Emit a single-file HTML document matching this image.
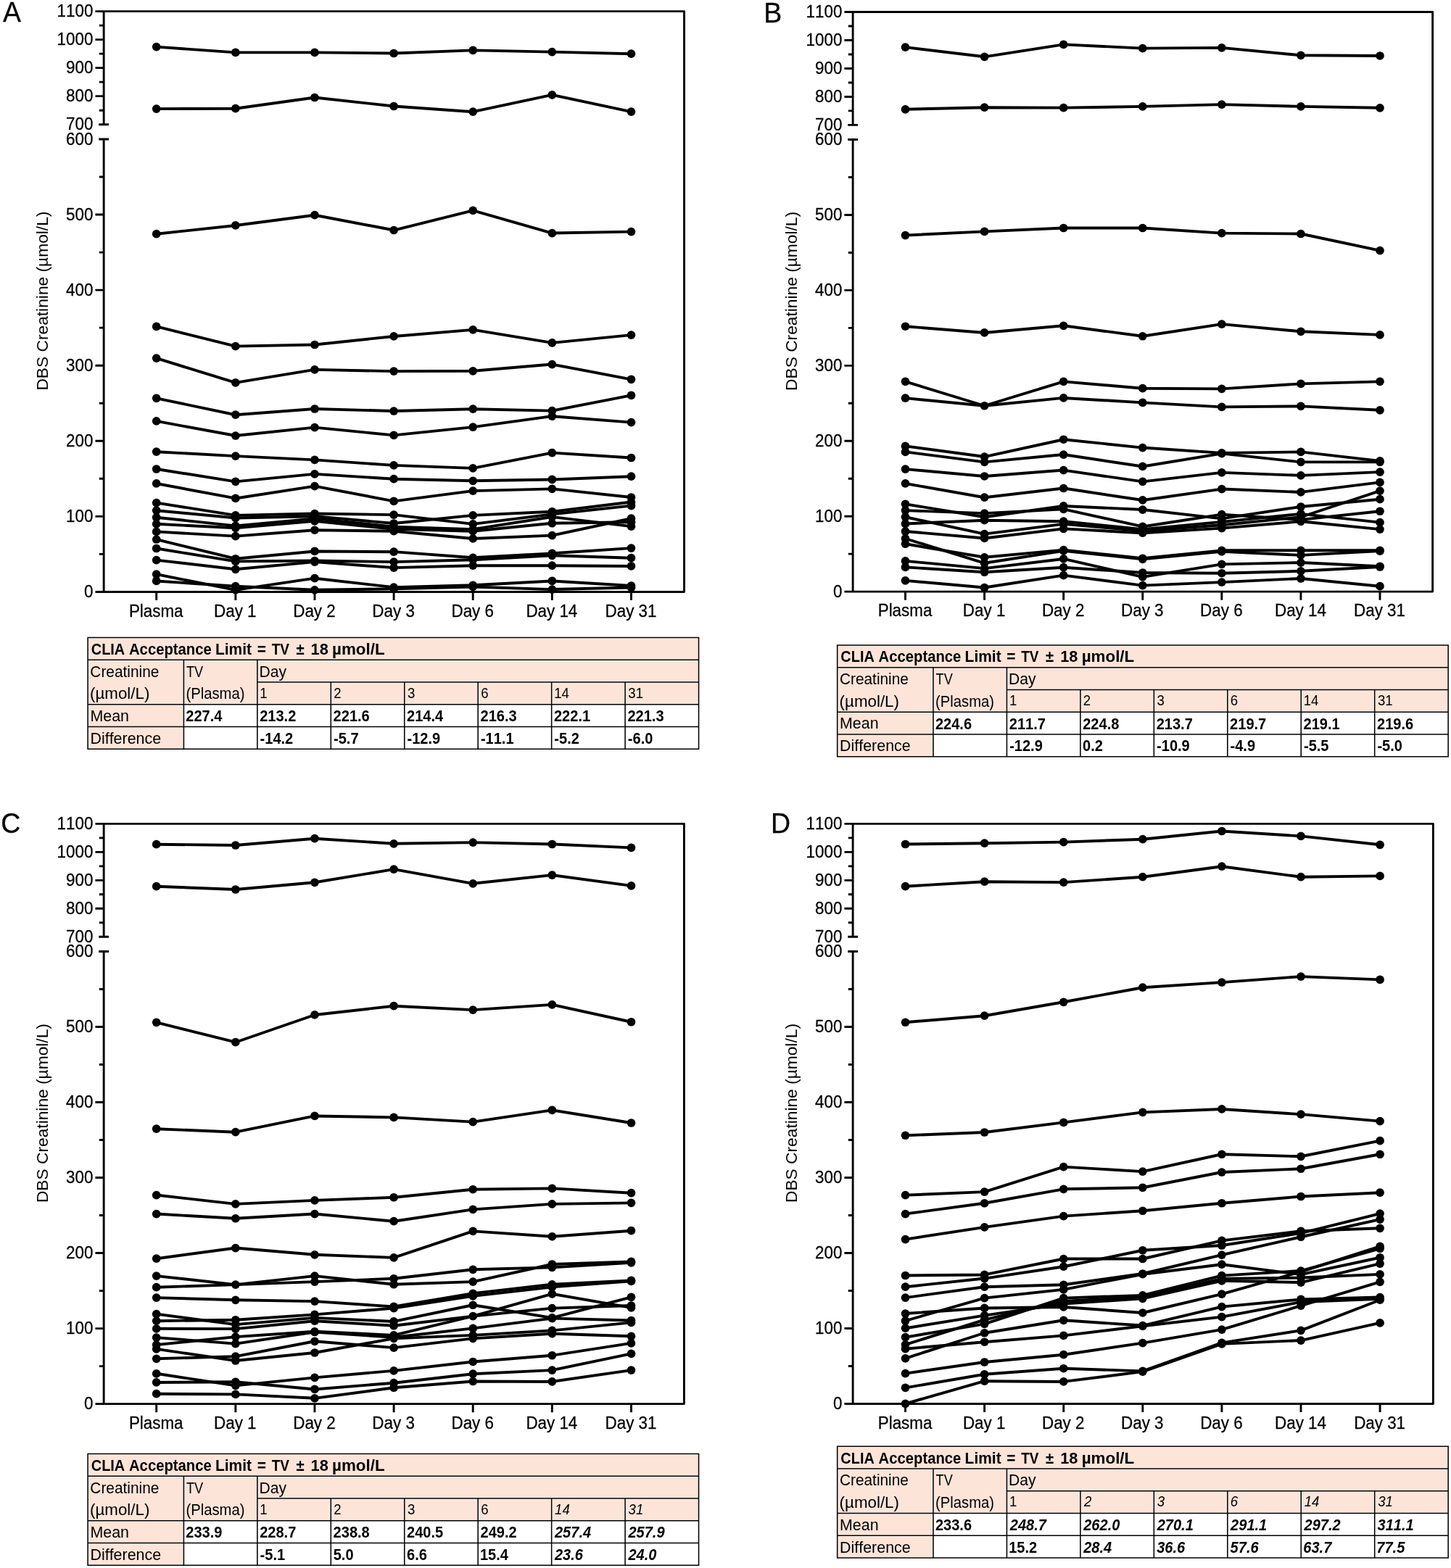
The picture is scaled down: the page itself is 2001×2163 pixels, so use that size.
<!DOCTYPE html>
<html lang="en"><head><meta charset="utf-8"><title>DBS Creatinine stability</title>
<style>html,body{margin:0;padding:0;background:#fff}body{width:2001px;height:2163px;overflow:hidden}svg{display:block}text{font-kerning:none;font-family:"Liberation Sans",sans-serif;fill:#000}.c{stroke:#000;stroke-width:.25px;paint-order:stroke}.b{font-weight:700}.i{font-style:italic}.bi{font-weight:700;font-style:italic}</style></head><body>
<svg width="2001" height="2163" viewBox="0 0 2001 2163">
<rect width="2001" height="2163" fill="#fff"/>
<g id="panelA">
<g fill="none" stroke="#000" stroke-width="2.9" stroke-linecap="butt" stroke-linejoin="round">
<path d="M131.44 15.58 H943.54 V816.43 H131.44"/>
<path d="M143.14 15.58 V171.69"/>
<path d="M143.14 191.98 V816.43"/>
<path d="M136.24 171.69H150.04M136.24 191.98H150.04M131.44 132.66H143.14M131.44 93.63H143.14M131.44 54.61H143.14M131.44 712.35H143.14M131.44 608.28H143.14M131.44 504.2H143.14M131.44 400.13H143.14M131.44 296.05H143.14M136.84 152.18H143.14M136.84 113.15H143.14M136.84 74.12H143.14M136.84 35.09H143.14M136.84 764.39H143.14M136.84 660.32H143.14M136.84 556.24H143.14M136.84 452.17H143.14M136.84 348.09H143.14M136.84 244.02H143.14M215.7 816.43V828.03M324.83 816.43V828.03M433.96 816.43V828.03M543.09 816.43V828.03M652.22 816.43V828.03M761.35 816.43V828.03M870.48 816.43V828.03"/>
</g>
<g font-size="22.4" text-anchor="end" class="c">
<text transform="translate(128.34 23.33) scale(1 1.03)">1100</text>
<text transform="translate(128.34 62.36) scale(1 1.03)">1000</text>
<text transform="translate(128.34 101.38) scale(1 1.03)">900</text>
<text transform="translate(128.34 140.41) scale(1 1.03)">800</text>
<text transform="translate(128.34 179.44) scale(1 1.03)">700</text>
<text transform="translate(128.34 199.73) scale(1 1.03)">600</text>
<text transform="translate(128.34 303.8) scale(1 1.03)">500</text>
<text transform="translate(128.34 407.88) scale(1 1.03)">400</text>
<text transform="translate(128.34 511.95) scale(1 1.03)">300</text>
<text transform="translate(128.34 616.03) scale(1 1.03)">200</text>
<text transform="translate(128.34 720.1) scale(1 1.03)">100</text>
<text transform="translate(128.34 824.18) scale(1 1.03)">0</text>
</g>
<g font-size="22.4" text-anchor="middle" class="c">
<text transform="translate(215.2 850.53) scale(1 1.03)">Plasma</text>
<text transform="translate(324.33 850.53) scale(1 1.03)">Day 1</text>
<text transform="translate(433.46 850.53) scale(1 1.03)">Day 2</text>
<text transform="translate(542.59 850.53) scale(1 1.03)">Day 3</text>
<text transform="translate(651.72 850.53) scale(1 1.03)">Day 6</text>
<text transform="translate(760.85 850.53) scale(1 1.03)">Day 14</text>
<text transform="translate(869.98 850.53) scale(1 1.03)">Day 31</text>
<text transform="translate(66.14 415.11) rotate(-90)" font-size="22.75" style="stroke:none">DBS Creatinine (µmol/L)</text>
</g>
<text transform="translate(4 30.1) scale(1 1.03)" font-size="37.5" class="c">A</text>
<g fill="none" stroke="#000" stroke-width="3.9" stroke-linejoin="round" stroke-linecap="round">
<polyline points="215.7,64.61 324.83,72.41 433.96,72.41 543.09,73.5 652.22,69.4 761.35,71.59 870.48,74.2"/>
<polyline points="215.7,150.09 324.83,149.7 433.96,134.49 543.09,146.51 652.22,154.19 761.35,130.91 870.48,154.19"/>
<polyline points="215.7,322.72 324.83,310.97 433.96,296.72 543.09,317.52 652.22,290.38 761.35,321.58 870.48,319.6"/>
<polyline points="215.7,450.43 324.83,477.58 433.96,475.5 543.09,463.95 652.22,454.9 761.35,472.9 870.48,462.08"/>
<polyline points="215.7,494.11 324.83,527.91 433.96,509.92 543.09,512.1 652.22,511.79 761.35,502.54 870.48,523.34"/>
<polyline points="215.7,549.34 324.83,572.22 433.96,564 543.09,567.02 652.22,564.21 761.35,566.6 870.48,545.38"/>
<polyline points="215.7,580.95 324.83,601.02 433.96,589.58 543.09,600.4 652.22,589.17 761.35,574.19 870.48,582.62"/>
<polyline points="215.7,623.18 324.83,629.1 433.96,634.41 543.09,641.9 652.22,645.85 761.35,624.63 870.48,631.5"/>
<polyline points="215.7,646.99 324.83,664.36 433.96,653.86 543.09,660.72 652.22,663.32 761.35,661.45 870.48,657.18"/>
<polyline points="215.7,666.96 324.83,687.45 433.96,670.6 543.09,691.4 652.22,677.15 761.35,674.34 870.48,685.99"/>
<polyline points="215.7,693.58 324.83,710.85 433.96,708.56 543.09,710.12 652.22,722.91 761.35,709.39 870.48,697.64"/>
<polyline points="215.7,704.19 324.83,714.49 433.96,712.2 543.09,721.98 652.22,710.85 761.35,705.75 870.48,692.54"/>
<polyline points="215.7,713.76 324.83,725.41 433.96,715.32 543.09,726.76 652.22,730.19 761.35,713.03 870.48,726.14"/>
<polyline points="215.7,722.81 324.83,728.32 433.96,718.86 543.09,729.88 652.22,732.69 761.35,721.77 870.48,720.31"/>
<polyline points="215.7,733.42 324.83,739.66 433.96,731.23 543.09,732.69 652.22,742.98 761.35,738.62 870.48,715.22"/>
<polyline points="215.7,744.02 324.83,770.75 433.96,760.46 543.09,761.18 652.22,769.3 761.35,763.37 870.48,756.09"/>
<polyline points="215.7,756.5 324.83,774.39 433.96,773.56 543.09,775.12 652.22,772.21 761.35,766.28 870.48,769.71"/>
<polyline points="215.7,772.62 324.83,785.31 433.96,775.12 543.09,783.13 652.22,780.22 761.35,780.22 870.48,780.94"/>
<polyline points="215.7,792.18 324.83,813.81 433.96,797.69 543.09,810.17 652.22,807.26 761.35,801.43 870.48,807.98"/>
<polyline points="215.7,801.43 324.83,808.71 433.96,813.81 543.09,812.35 652.22,809.44 761.35,813.08 870.48,810.48"/>
</g>
<g fill="#000">
<circle cx="215.7" cy="64.61" r="5.85"/>
<circle cx="324.83" cy="72.41" r="5.85"/>
<circle cx="433.96" cy="72.41" r="5.85"/>
<circle cx="543.09" cy="73.5" r="5.85"/>
<circle cx="652.22" cy="69.4" r="5.85"/>
<circle cx="761.35" cy="71.59" r="5.85"/>
<circle cx="870.48" cy="74.2" r="5.85"/>
<circle cx="215.7" cy="150.09" r="5.85"/>
<circle cx="324.83" cy="149.7" r="5.85"/>
<circle cx="433.96" cy="134.49" r="5.85"/>
<circle cx="543.09" cy="146.51" r="5.85"/>
<circle cx="652.22" cy="154.19" r="5.85"/>
<circle cx="761.35" cy="130.91" r="5.85"/>
<circle cx="870.48" cy="154.19" r="5.85"/>
<circle cx="215.7" cy="322.72" r="5.85"/>
<circle cx="324.83" cy="310.97" r="5.85"/>
<circle cx="433.96" cy="296.72" r="5.85"/>
<circle cx="543.09" cy="317.52" r="5.85"/>
<circle cx="652.22" cy="290.38" r="5.85"/>
<circle cx="761.35" cy="321.58" r="5.85"/>
<circle cx="870.48" cy="319.6" r="5.85"/>
<circle cx="215.7" cy="450.43" r="5.85"/>
<circle cx="324.83" cy="477.58" r="5.85"/>
<circle cx="433.96" cy="475.5" r="5.85"/>
<circle cx="543.09" cy="463.95" r="5.85"/>
<circle cx="652.22" cy="454.9" r="5.85"/>
<circle cx="761.35" cy="472.9" r="5.85"/>
<circle cx="870.48" cy="462.08" r="5.85"/>
<circle cx="215.7" cy="494.11" r="5.85"/>
<circle cx="324.83" cy="527.91" r="5.85"/>
<circle cx="433.96" cy="509.92" r="5.85"/>
<circle cx="543.09" cy="512.1" r="5.85"/>
<circle cx="652.22" cy="511.79" r="5.85"/>
<circle cx="761.35" cy="502.54" r="5.85"/>
<circle cx="870.48" cy="523.34" r="5.85"/>
<circle cx="215.7" cy="549.34" r="5.85"/>
<circle cx="324.83" cy="572.22" r="5.85"/>
<circle cx="433.96" cy="564" r="5.85"/>
<circle cx="543.09" cy="567.02" r="5.85"/>
<circle cx="652.22" cy="564.21" r="5.85"/>
<circle cx="761.35" cy="566.6" r="5.85"/>
<circle cx="870.48" cy="545.38" r="5.85"/>
<circle cx="215.7" cy="580.95" r="5.85"/>
<circle cx="324.83" cy="601.02" r="5.85"/>
<circle cx="433.96" cy="589.58" r="5.85"/>
<circle cx="543.09" cy="600.4" r="5.85"/>
<circle cx="652.22" cy="589.17" r="5.85"/>
<circle cx="761.35" cy="574.19" r="5.85"/>
<circle cx="870.48" cy="582.62" r="5.85"/>
<circle cx="215.7" cy="623.18" r="5.85"/>
<circle cx="324.83" cy="629.1" r="5.85"/>
<circle cx="433.96" cy="634.41" r="5.85"/>
<circle cx="543.09" cy="641.9" r="5.85"/>
<circle cx="652.22" cy="645.85" r="5.85"/>
<circle cx="761.35" cy="624.63" r="5.85"/>
<circle cx="870.48" cy="631.5" r="5.85"/>
<circle cx="215.7" cy="646.99" r="5.85"/>
<circle cx="324.83" cy="664.36" r="5.85"/>
<circle cx="433.96" cy="653.86" r="5.85"/>
<circle cx="543.09" cy="660.72" r="5.85"/>
<circle cx="652.22" cy="663.32" r="5.85"/>
<circle cx="761.35" cy="661.45" r="5.85"/>
<circle cx="870.48" cy="657.18" r="5.85"/>
<circle cx="215.7" cy="666.96" r="5.85"/>
<circle cx="324.83" cy="687.45" r="5.85"/>
<circle cx="433.96" cy="670.6" r="5.85"/>
<circle cx="543.09" cy="691.4" r="5.85"/>
<circle cx="652.22" cy="677.15" r="5.85"/>
<circle cx="761.35" cy="674.34" r="5.85"/>
<circle cx="870.48" cy="685.99" r="5.85"/>
<circle cx="215.7" cy="693.58" r="5.85"/>
<circle cx="324.83" cy="710.85" r="5.85"/>
<circle cx="433.96" cy="708.56" r="5.85"/>
<circle cx="543.09" cy="710.12" r="5.85"/>
<circle cx="652.22" cy="722.91" r="5.85"/>
<circle cx="761.35" cy="709.39" r="5.85"/>
<circle cx="870.48" cy="697.64" r="5.85"/>
<circle cx="215.7" cy="704.19" r="5.85"/>
<circle cx="324.83" cy="714.49" r="5.85"/>
<circle cx="433.96" cy="712.2" r="5.85"/>
<circle cx="543.09" cy="721.98" r="5.85"/>
<circle cx="652.22" cy="710.85" r="5.85"/>
<circle cx="761.35" cy="705.75" r="5.85"/>
<circle cx="870.48" cy="692.54" r="5.85"/>
<circle cx="215.7" cy="713.76" r="5.85"/>
<circle cx="324.83" cy="725.41" r="5.85"/>
<circle cx="433.96" cy="715.32" r="5.85"/>
<circle cx="543.09" cy="726.76" r="5.85"/>
<circle cx="652.22" cy="730.19" r="5.85"/>
<circle cx="761.35" cy="713.03" r="5.85"/>
<circle cx="870.48" cy="726.14" r="5.85"/>
<circle cx="215.7" cy="722.81" r="5.85"/>
<circle cx="324.83" cy="728.32" r="5.85"/>
<circle cx="433.96" cy="718.86" r="5.85"/>
<circle cx="543.09" cy="729.88" r="5.85"/>
<circle cx="652.22" cy="732.69" r="5.85"/>
<circle cx="761.35" cy="721.77" r="5.85"/>
<circle cx="870.48" cy="720.31" r="5.85"/>
<circle cx="215.7" cy="733.42" r="5.85"/>
<circle cx="324.83" cy="739.66" r="5.85"/>
<circle cx="433.96" cy="731.23" r="5.85"/>
<circle cx="543.09" cy="732.69" r="5.85"/>
<circle cx="652.22" cy="742.98" r="5.85"/>
<circle cx="761.35" cy="738.62" r="5.85"/>
<circle cx="870.48" cy="715.22" r="5.85"/>
<circle cx="215.7" cy="744.02" r="5.85"/>
<circle cx="324.83" cy="770.75" r="5.85"/>
<circle cx="433.96" cy="760.46" r="5.85"/>
<circle cx="543.09" cy="761.18" r="5.85"/>
<circle cx="652.22" cy="769.3" r="5.85"/>
<circle cx="761.35" cy="763.37" r="5.85"/>
<circle cx="870.48" cy="756.09" r="5.85"/>
<circle cx="215.7" cy="756.5" r="5.85"/>
<circle cx="324.83" cy="774.39" r="5.85"/>
<circle cx="433.96" cy="773.56" r="5.85"/>
<circle cx="543.09" cy="775.12" r="5.85"/>
<circle cx="652.22" cy="772.21" r="5.85"/>
<circle cx="761.35" cy="766.28" r="5.85"/>
<circle cx="870.48" cy="769.71" r="5.85"/>
<circle cx="215.7" cy="772.62" r="5.85"/>
<circle cx="324.83" cy="785.31" r="5.85"/>
<circle cx="433.96" cy="775.12" r="5.85"/>
<circle cx="543.09" cy="783.13" r="5.85"/>
<circle cx="652.22" cy="780.22" r="5.85"/>
<circle cx="761.35" cy="780.22" r="5.85"/>
<circle cx="870.48" cy="780.94" r="5.85"/>
<circle cx="215.7" cy="792.18" r="5.85"/>
<circle cx="324.83" cy="813.81" r="5.85"/>
<circle cx="433.96" cy="797.69" r="5.85"/>
<circle cx="543.09" cy="810.17" r="5.85"/>
<circle cx="652.22" cy="807.26" r="5.85"/>
<circle cx="761.35" cy="801.43" r="5.85"/>
<circle cx="870.48" cy="807.98" r="5.85"/>
<circle cx="215.7" cy="801.43" r="5.85"/>
<circle cx="324.83" cy="808.71" r="5.85"/>
<circle cx="433.96" cy="813.81" r="5.85"/>
<circle cx="543.09" cy="812.35" r="5.85"/>
<circle cx="652.22" cy="809.44" r="5.85"/>
<circle cx="761.35" cy="813.08" r="5.85"/>
<circle cx="870.48" cy="810.48" r="5.85"/>
</g>
<path d="M122.3 880.7H962.35V909.55H122.3ZM122.3 911.45H252.2V971.05H122.3ZM254.6 911.45H353.65V971.05H254.6ZM356.05 911.45H962.35V940.3H356.05ZM122.3 972.95H252.2V1001.8H122.3ZM122.3 1003.7H252.2V1032.55H122.3ZM356.05 942.2H455.1V971.05H356.05ZM457.5 942.2H556.55V971.05H457.5ZM558.95 942.2H658V971.05H558.95ZM660.4 942.2H759.45V971.05H660.4ZM761.85 942.2H860.9V971.05H761.85ZM863.3 942.2H962.35V971.05H863.3Z" fill="#fce4d8"/>
<path d="M121.1 879.5H963.55V1033.25H121.1ZM121.1 910.25H963.55M354.85 941H963.55M121.1 971.75H963.55M121.1 1002.5H963.55M253.4 910.25V1033.25M354.85 910.25V1033.25M456.3 941V1033.25M557.75 941V1033.25M659.2 941V1033.25M760.65 941V1033.25M862.1 941V1033.25" fill="none" stroke="#000" stroke-width="1.55" stroke-linejoin="miter"/>
<g font-size="20.4">
<text transform="translate(121.1 902.7) scale(1 1.04)" class="b" xml:space="preserve"><tspan x="4.68" textLength="46.44" lengthAdjust="spacingAndGlyphs">CLIA</tspan> <tspan x="56.9" textLength="113.7" lengthAdjust="spacingAndGlyphs">Acceptance</tspan> <tspan x="175.9" textLength="50.06" lengthAdjust="spacingAndGlyphs">Limit</tspan> <tspan x="233.63" textLength="12.23" lengthAdjust="spacingAndGlyphs">=</tspan> <tspan x="253.59" textLength="24.24" lengthAdjust="spacingAndGlyphs">TV</tspan> <tspan x="287.41" textLength="11.16" lengthAdjust="spacingAndGlyphs">±</tspan> <tspan x="307.53" textLength="24.24" lengthAdjust="spacingAndGlyphs">18</tspan> <tspan x="336.93" textLength="72.66" lengthAdjust="spacingAndGlyphs">µmol/L</tspan></text>
<text transform="translate(124.34 933.65) scale(1 1.04)" textLength="94.98" lengthAdjust="spacingAndGlyphs">Creatinine</text>
<text transform="translate(124.01 964.1) scale(1 1.04)" textLength="82.37" lengthAdjust="spacingAndGlyphs">(µmol/L)</text>
<text transform="translate(256.99 933.65) scale(1 1.04)" textLength="23.19" lengthAdjust="spacingAndGlyphs">TV</text>
<text transform="translate(256.44 964.1) scale(1 1.04)" textLength="81.01" lengthAdjust="spacingAndGlyphs">(Plasma)</text>
<text transform="translate(357.47 933.65) scale(1 1.04)" textLength="37.57" lengthAdjust="spacingAndGlyphs">Day</text>
<text transform="translate(124.44 995.05) scale(1 1.04)" textLength="53.55" lengthAdjust="spacingAndGlyphs">Mean</text>
<text transform="translate(124.44 1025.8) scale(1 1.04)" textLength="97.71" lengthAdjust="spacingAndGlyphs">Difference</text>
</g>
<g font-size="18.6">
<text transform="translate(358.33 962.5) scale(1 1.04)">1</text>
<text transform="translate(460.26 962.5) scale(1 1.04)">2</text>
<text transform="translate(561.94 962.5) scale(1 1.04)">3</text>
<text transform="translate(663.16 962.5) scale(1 1.04)">6</text>
<text transform="translate(764.13 962.5) scale(1 1.04)">14</text>
<text transform="translate(866.29 962.5) scale(1 1.04)">31</text>
</g>
<g font-size="20.4">
<text transform="translate(256.31 995.15) scale(1 1.04)" class="b" textLength="50.13" lengthAdjust="spacingAndGlyphs">227.4</text>
<text transform="translate(358.16 995.15) scale(1 1.04)" class="b" textLength="50.13" lengthAdjust="spacingAndGlyphs">213.2</text>
<text transform="translate(459.61 995.15) scale(1 1.04)" class="b" textLength="50.13" lengthAdjust="spacingAndGlyphs">221.6</text>
<text transform="translate(561.06 995.15) scale(1 1.04)" class="b" textLength="50.13" lengthAdjust="spacingAndGlyphs">214.4</text>
<text transform="translate(662.51 995.15) scale(1 1.04)" class="b" textLength="50.13" lengthAdjust="spacingAndGlyphs">216.3</text>
<text transform="translate(763.96 995.15) scale(1 1.04)" class="b" textLength="50.13" lengthAdjust="spacingAndGlyphs">222.1</text>
<text transform="translate(865.41 995.15) scale(1 1.04)" class="b" textLength="50.13" lengthAdjust="spacingAndGlyphs">221.3</text>
<text transform="translate(358.57 1026) scale(1 1.04)" class="b" textLength="45.66" lengthAdjust="spacingAndGlyphs">-14.2</text>
<text transform="translate(460.02 1026) scale(1 1.04)" class="b" textLength="34.52" lengthAdjust="spacingAndGlyphs">-5.7</text>
<text transform="translate(561.47 1026) scale(1 1.04)" class="b" textLength="45.66" lengthAdjust="spacingAndGlyphs">-12.9</text>
<text transform="translate(662.92 1026) scale(1 1.04)" class="b" textLength="45.66" lengthAdjust="spacingAndGlyphs">-11.1</text>
<text transform="translate(764.37 1026) scale(1 1.04)" class="b" textLength="34.52" lengthAdjust="spacingAndGlyphs">-5.2</text>
<text transform="translate(865.82 1026) scale(1 1.04)" class="b" textLength="34.52" lengthAdjust="spacingAndGlyphs">-6.0</text>
</g>
</g>
<g id="panelB">
<g fill="none" stroke="#000" stroke-width="2.9" stroke-linecap="butt" stroke-linejoin="round">
<path d="M1164.44 16.56 H1975.64 V816.1 H1164.44"/>
<path d="M1176.14 16.56 V172.4"/>
<path d="M1176.14 192.56 V816.1"/>
<path d="M1169.24 172.4H1183.04M1169.24 192.56H1183.04M1164.44 133.44H1176.14M1164.44 94.48H1176.14M1164.44 55.52H1176.14M1164.44 712.18H1176.14M1164.44 608.25H1176.14M1164.44 504.33H1176.14M1164.44 400.41H1176.14M1164.44 296.48H1176.14M1169.84 152.92H1176.14M1169.84 113.96H1176.14M1169.84 75H1176.14M1169.84 36.04H1176.14M1169.84 764.14H1176.14M1169.84 660.21H1176.14M1169.84 556.29H1176.14M1169.84 452.37H1176.14M1169.84 348.44H1176.14M1169.84 244.52H1176.14M1248.52 816.1V827.7M1357.6 816.1V827.7M1466.68 816.1V827.7M1575.76 816.1V827.7M1684.84 816.1V827.7M1793.92 816.1V827.7M1903 816.1V827.7"/>
</g>
<g font-size="22.4" text-anchor="end" class="c">
<text transform="translate(1161.34 24.31) scale(1 1.03)">1100</text>
<text transform="translate(1161.34 63.27) scale(1 1.03)">1000</text>
<text transform="translate(1161.34 102.23) scale(1 1.03)">900</text>
<text transform="translate(1161.34 141.19) scale(1 1.03)">800</text>
<text transform="translate(1161.34 180.15) scale(1 1.03)">700</text>
<text transform="translate(1161.34 200.31) scale(1 1.03)">600</text>
<text transform="translate(1161.34 304.23) scale(1 1.03)">500</text>
<text transform="translate(1161.34 408.16) scale(1 1.03)">400</text>
<text transform="translate(1161.34 512.08) scale(1 1.03)">300</text>
<text transform="translate(1161.34 616) scale(1 1.03)">200</text>
<text transform="translate(1161.34 719.93) scale(1 1.03)">100</text>
<text transform="translate(1161.34 823.85) scale(1 1.03)">0</text>
</g>
<g font-size="22.4" text-anchor="middle" class="c">
<text transform="translate(1248.02 850.2) scale(1 1.03)">Plasma</text>
<text transform="translate(1357.1 850.2) scale(1 1.03)">Day 1</text>
<text transform="translate(1466.18 850.2) scale(1 1.03)">Day 2</text>
<text transform="translate(1575.26 850.2) scale(1 1.03)">Day 3</text>
<text transform="translate(1684.34 850.2) scale(1 1.03)">Day 6</text>
<text transform="translate(1793.42 850.2) scale(1 1.03)">Day 14</text>
<text transform="translate(1902.5 850.2) scale(1 1.03)">Day 31</text>
<text transform="translate(1099.14 415.43) rotate(-90)" font-size="22.75" style="stroke:none">DBS Creatinine (µmol/L)</text>
</g>
<text transform="translate(1053.2 31.2) scale(1 1.03)" font-size="37.5" class="c">B</text>
<g fill="none" stroke="#000" stroke-width="3.9" stroke-linejoin="round" stroke-linecap="round">
<polyline points="1248.52,65.09 1357.6,78.31 1466.68,61.38 1575.76,66.61 1684.84,65.91 1793.92,76.28 1903,76.98"/>
<polyline points="1248.52,150.81 1357.6,148.2 1466.68,148.59 1575.76,146.91 1684.84,144.1 1793.92,146.91 1903,148.78"/>
<polyline points="1248.52,324.6 1357.6,319.4 1466.68,314.51 1575.76,314.51 1684.84,321.58 1793.92,322.52 1903,345.61"/>
<polyline points="1248.52,450.23 1357.6,458.97 1466.68,449.3 1575.76,463.75 1684.84,447.11 1793.92,457.3 1903,461.88"/>
<polyline points="1248.52,526.36 1357.6,559.74 1466.68,526.36 1575.76,535.72 1684.84,536.34 1793.92,529.38 1903,526.36"/>
<polyline points="1248.52,549.14 1357.6,559.74 1466.68,548.93 1575.76,555.38 1684.84,561.41 1793.92,560.37 1903,565.78"/>
<polyline points="1248.52,615.38 1357.6,630.05 1466.68,606.23 1575.76,617.57 1684.84,624.85 1793.92,623.39 1903,635.87"/>
<polyline points="1248.52,623.39 1357.6,637.33 1466.68,627.03 1575.76,643.46 1684.84,625.68 1793.92,637.33 1903,637.33"/>
<polyline points="1248.52,647.1 1357.6,656.98 1466.68,648.56 1575.76,664.37 1684.84,651.89 1793.92,655.84 1903,651.16"/>
<polyline points="1248.52,666.97 1357.6,686.21 1466.68,673.52 1575.76,689.95 1684.84,674.56 1793.92,678.93 1903,665.41"/>
<polyline points="1248.52,695.36 1357.6,713.25 1466.68,697.96 1575.76,703.06 1684.84,715.43 1793.92,699 1903,688.7"/>
<polyline points="1248.52,704.1 1357.6,708.15 1466.68,702.33 1575.76,726.46 1684.84,709.61 1793.92,716.89 1903,705.24"/>
<polyline points="1248.52,713.25 1357.6,736.65 1466.68,722.82 1575.76,732.28 1684.84,724.27 1793.92,713.25 1903,677.06"/>
<polyline points="1248.52,722.5 1357.6,717.72 1466.68,719.18 1575.76,730.1 1684.84,719.9 1793.92,708.88 1903,720.63"/>
<polyline points="1248.52,733.01 1357.6,742.47 1466.68,729.37 1575.76,735.19 1684.84,728.64 1793.92,719.28 1903,730.1"/>
<polyline points="1248.52,742.99 1357.6,776.79 1466.68,759.84 1575.76,771.28 1684.84,760.88 1793.92,765.87 1903,760.05"/>
<polyline points="1248.52,750.27 1357.6,768.78 1466.68,758.59 1575.76,770.24 1684.84,759.32 1793.92,759.32 1903,759.32"/>
<polyline points="1248.52,773.88 1357.6,784.18 1466.68,770.97 1575.76,795.82 1684.84,778.35 1793.92,776.06 1903,781.26"/>
<polyline points="1248.52,782.41 1357.6,789.27 1466.68,782.72 1575.76,790 1684.84,790.73 1793.92,787.82 1903,781.99"/>
<polyline points="1248.52,800.92 1357.6,810.49 1466.68,793.64 1575.76,807.58 1684.84,803.1 1793.92,798.01 1903,808.72"/>
</g>
<g fill="#000">
<circle cx="1248.52" cy="65.09" r="5.85"/>
<circle cx="1357.6" cy="78.31" r="5.85"/>
<circle cx="1466.68" cy="61.38" r="5.85"/>
<circle cx="1575.76" cy="66.61" r="5.85"/>
<circle cx="1684.84" cy="65.91" r="5.85"/>
<circle cx="1793.92" cy="76.28" r="5.85"/>
<circle cx="1903" cy="76.98" r="5.85"/>
<circle cx="1248.52" cy="150.81" r="5.85"/>
<circle cx="1357.6" cy="148.2" r="5.85"/>
<circle cx="1466.68" cy="148.59" r="5.85"/>
<circle cx="1575.76" cy="146.91" r="5.85"/>
<circle cx="1684.84" cy="144.1" r="5.85"/>
<circle cx="1793.92" cy="146.91" r="5.85"/>
<circle cx="1903" cy="148.78" r="5.85"/>
<circle cx="1248.52" cy="324.6" r="5.85"/>
<circle cx="1357.6" cy="319.4" r="5.85"/>
<circle cx="1466.68" cy="314.51" r="5.85"/>
<circle cx="1575.76" cy="314.51" r="5.85"/>
<circle cx="1684.84" cy="321.58" r="5.85"/>
<circle cx="1793.92" cy="322.52" r="5.85"/>
<circle cx="1903" cy="345.61" r="5.85"/>
<circle cx="1248.52" cy="450.23" r="5.85"/>
<circle cx="1357.6" cy="458.97" r="5.85"/>
<circle cx="1466.68" cy="449.3" r="5.85"/>
<circle cx="1575.76" cy="463.75" r="5.85"/>
<circle cx="1684.84" cy="447.11" r="5.85"/>
<circle cx="1793.92" cy="457.3" r="5.85"/>
<circle cx="1903" cy="461.88" r="5.85"/>
<circle cx="1248.52" cy="526.36" r="5.85"/>
<circle cx="1357.6" cy="559.74" r="5.85"/>
<circle cx="1466.68" cy="526.36" r="5.85"/>
<circle cx="1575.76" cy="535.72" r="5.85"/>
<circle cx="1684.84" cy="536.34" r="5.85"/>
<circle cx="1793.92" cy="529.38" r="5.85"/>
<circle cx="1903" cy="526.36" r="5.85"/>
<circle cx="1248.52" cy="549.14" r="5.85"/>
<circle cx="1466.68" cy="548.93" r="5.85"/>
<circle cx="1575.76" cy="555.38" r="5.85"/>
<circle cx="1684.84" cy="561.41" r="5.85"/>
<circle cx="1793.92" cy="560.37" r="5.85"/>
<circle cx="1903" cy="565.78" r="5.85"/>
<circle cx="1248.52" cy="615.38" r="5.85"/>
<circle cx="1357.6" cy="630.05" r="5.85"/>
<circle cx="1466.68" cy="606.23" r="5.85"/>
<circle cx="1575.76" cy="617.57" r="5.85"/>
<circle cx="1684.84" cy="624.85" r="5.85"/>
<circle cx="1793.92" cy="623.39" r="5.85"/>
<circle cx="1903" cy="635.87" r="5.85"/>
<circle cx="1248.52" cy="623.39" r="5.85"/>
<circle cx="1357.6" cy="637.33" r="5.85"/>
<circle cx="1466.68" cy="627.03" r="5.85"/>
<circle cx="1575.76" cy="643.46" r="5.85"/>
<circle cx="1684.84" cy="625.68" r="5.85"/>
<circle cx="1793.92" cy="637.33" r="5.85"/>
<circle cx="1903" cy="637.33" r="5.85"/>
<circle cx="1248.52" cy="647.1" r="5.85"/>
<circle cx="1357.6" cy="656.98" r="5.85"/>
<circle cx="1466.68" cy="648.56" r="5.85"/>
<circle cx="1575.76" cy="664.37" r="5.85"/>
<circle cx="1684.84" cy="651.89" r="5.85"/>
<circle cx="1793.92" cy="655.84" r="5.85"/>
<circle cx="1903" cy="651.16" r="5.85"/>
<circle cx="1248.52" cy="666.97" r="5.85"/>
<circle cx="1357.6" cy="686.21" r="5.85"/>
<circle cx="1466.68" cy="673.52" r="5.85"/>
<circle cx="1575.76" cy="689.95" r="5.85"/>
<circle cx="1684.84" cy="674.56" r="5.85"/>
<circle cx="1793.92" cy="678.93" r="5.85"/>
<circle cx="1903" cy="665.41" r="5.85"/>
<circle cx="1248.52" cy="695.36" r="5.85"/>
<circle cx="1357.6" cy="713.25" r="5.85"/>
<circle cx="1466.68" cy="697.96" r="5.85"/>
<circle cx="1575.76" cy="703.06" r="5.85"/>
<circle cx="1684.84" cy="715.43" r="5.85"/>
<circle cx="1793.92" cy="699" r="5.85"/>
<circle cx="1903" cy="688.7" r="5.85"/>
<circle cx="1248.52" cy="704.1" r="5.85"/>
<circle cx="1357.6" cy="708.15" r="5.85"/>
<circle cx="1466.68" cy="702.33" r="5.85"/>
<circle cx="1575.76" cy="726.46" r="5.85"/>
<circle cx="1684.84" cy="709.61" r="5.85"/>
<circle cx="1793.92" cy="716.89" r="5.85"/>
<circle cx="1903" cy="705.24" r="5.85"/>
<circle cx="1248.52" cy="713.25" r="5.85"/>
<circle cx="1357.6" cy="736.65" r="5.85"/>
<circle cx="1466.68" cy="722.82" r="5.85"/>
<circle cx="1575.76" cy="732.28" r="5.85"/>
<circle cx="1684.84" cy="724.27" r="5.85"/>
<circle cx="1793.92" cy="713.25" r="5.85"/>
<circle cx="1903" cy="677.06" r="5.85"/>
<circle cx="1248.52" cy="722.5" r="5.85"/>
<circle cx="1357.6" cy="717.72" r="5.85"/>
<circle cx="1466.68" cy="719.18" r="5.85"/>
<circle cx="1575.76" cy="730.1" r="5.85"/>
<circle cx="1684.84" cy="719.9" r="5.85"/>
<circle cx="1793.92" cy="708.88" r="5.85"/>
<circle cx="1903" cy="720.63" r="5.85"/>
<circle cx="1248.52" cy="733.01" r="5.85"/>
<circle cx="1357.6" cy="742.47" r="5.85"/>
<circle cx="1466.68" cy="729.37" r="5.85"/>
<circle cx="1575.76" cy="735.19" r="5.85"/>
<circle cx="1684.84" cy="728.64" r="5.85"/>
<circle cx="1793.92" cy="719.28" r="5.85"/>
<circle cx="1903" cy="730.1" r="5.85"/>
<circle cx="1248.52" cy="742.99" r="5.85"/>
<circle cx="1357.6" cy="776.79" r="5.85"/>
<circle cx="1466.68" cy="759.84" r="5.85"/>
<circle cx="1575.76" cy="771.28" r="5.85"/>
<circle cx="1684.84" cy="760.88" r="5.85"/>
<circle cx="1793.92" cy="765.87" r="5.85"/>
<circle cx="1903" cy="760.05" r="5.85"/>
<circle cx="1248.52" cy="750.27" r="5.85"/>
<circle cx="1357.6" cy="768.78" r="5.85"/>
<circle cx="1466.68" cy="758.59" r="5.85"/>
<circle cx="1575.76" cy="770.24" r="5.85"/>
<circle cx="1684.84" cy="759.32" r="5.85"/>
<circle cx="1793.92" cy="759.32" r="5.85"/>
<circle cx="1903" cy="759.32" r="5.85"/>
<circle cx="1248.52" cy="773.88" r="5.85"/>
<circle cx="1357.6" cy="784.18" r="5.85"/>
<circle cx="1466.68" cy="770.97" r="5.85"/>
<circle cx="1575.76" cy="795.82" r="5.85"/>
<circle cx="1684.84" cy="778.35" r="5.85"/>
<circle cx="1793.92" cy="776.06" r="5.85"/>
<circle cx="1903" cy="781.26" r="5.85"/>
<circle cx="1248.52" cy="782.41" r="5.85"/>
<circle cx="1357.6" cy="789.27" r="5.85"/>
<circle cx="1466.68" cy="782.72" r="5.85"/>
<circle cx="1575.76" cy="790" r="5.85"/>
<circle cx="1684.84" cy="790.73" r="5.85"/>
<circle cx="1793.92" cy="787.82" r="5.85"/>
<circle cx="1903" cy="781.99" r="5.85"/>
<circle cx="1248.52" cy="800.92" r="5.85"/>
<circle cx="1357.6" cy="810.49" r="5.85"/>
<circle cx="1466.68" cy="793.64" r="5.85"/>
<circle cx="1575.76" cy="807.58" r="5.85"/>
<circle cx="1684.84" cy="803.1" r="5.85"/>
<circle cx="1793.92" cy="798.01" r="5.85"/>
<circle cx="1903" cy="808.72" r="5.85"/>
</g>
<path d="M1155.9 891.1H1995.95V919.95H1155.9ZM1155.9 921.85H1285.8V981.45H1155.9ZM1288.2 921.85H1387.25V981.45H1288.2ZM1389.65 921.85H1995.95V950.7H1389.65ZM1155.9 983.35H1285.8V1012.2H1155.9ZM1155.9 1014.1H1285.8V1042.95H1155.9ZM1389.65 952.6H1488.7V981.45H1389.65ZM1491.1 952.6H1590.15V981.45H1491.1ZM1592.55 952.6H1691.6V981.45H1592.55ZM1694 952.6H1793.05V981.45H1694ZM1795.45 952.6H1894.5V981.45H1795.45ZM1896.9 952.6H1995.95V981.45H1896.9Z" fill="#fce4d8"/>
<path d="M1154.7 889.9H1997.15V1043.65H1154.7ZM1154.7 920.65H1997.15M1388.45 951.4H1997.15M1154.7 982.15H1997.15M1154.7 1012.9H1997.15M1287 920.65V1043.65M1388.45 920.65V1043.65M1489.9 951.4V1043.65M1591.35 951.4V1043.65M1692.8 951.4V1043.65M1794.25 951.4V1043.65M1895.7 951.4V1043.65" fill="none" stroke="#000" stroke-width="1.55" stroke-linejoin="miter"/>
<g font-size="20.4">
<text transform="translate(1154.7 913.1) scale(1 1.04)" class="b" xml:space="preserve"><tspan x="4.68" textLength="46.44" lengthAdjust="spacingAndGlyphs">CLIA</tspan> <tspan x="56.9" textLength="113.7" lengthAdjust="spacingAndGlyphs">Acceptance</tspan> <tspan x="175.9" textLength="50.06" lengthAdjust="spacingAndGlyphs">Limit</tspan> <tspan x="233.63" textLength="12.23" lengthAdjust="spacingAndGlyphs">=</tspan> <tspan x="253.59" textLength="24.24" lengthAdjust="spacingAndGlyphs">TV</tspan> <tspan x="287.41" textLength="11.16" lengthAdjust="spacingAndGlyphs">±</tspan> <tspan x="307.53" textLength="24.24" lengthAdjust="spacingAndGlyphs">18</tspan> <tspan x="336.93" textLength="72.66" lengthAdjust="spacingAndGlyphs">µmol/L</tspan></text>
<text transform="translate(1157.94 944.05) scale(1 1.04)" textLength="94.98" lengthAdjust="spacingAndGlyphs">Creatinine</text>
<text transform="translate(1157.61 974.5) scale(1 1.04)" textLength="82.37" lengthAdjust="spacingAndGlyphs">(µmol/L)</text>
<text transform="translate(1290.59 944.05) scale(1 1.04)" textLength="23.19" lengthAdjust="spacingAndGlyphs">TV</text>
<text transform="translate(1290.04 974.5) scale(1 1.04)" textLength="81.01" lengthAdjust="spacingAndGlyphs">(Plasma)</text>
<text transform="translate(1391.07 944.05) scale(1 1.04)" textLength="37.57" lengthAdjust="spacingAndGlyphs">Day</text>
<text transform="translate(1158.04 1005.45) scale(1 1.04)" textLength="53.55" lengthAdjust="spacingAndGlyphs">Mean</text>
<text transform="translate(1158.04 1036.2) scale(1 1.04)" textLength="97.71" lengthAdjust="spacingAndGlyphs">Difference</text>
</g>
<g font-size="18.6">
<text transform="translate(1391.93 972.9) scale(1 1.04)">1</text>
<text transform="translate(1493.86 972.9) scale(1 1.04)">2</text>
<text transform="translate(1595.54 972.9) scale(1 1.04)">3</text>
<text transform="translate(1696.76 972.9) scale(1 1.04)">6</text>
<text transform="translate(1797.73 972.9) scale(1 1.04)">14</text>
<text transform="translate(1899.89 972.9) scale(1 1.04)">31</text>
</g>
<g font-size="20.4">
<text transform="translate(1289.91 1005.55) scale(1 1.04)" class="b" textLength="50.13" lengthAdjust="spacingAndGlyphs">224.6</text>
<text transform="translate(1391.76 1005.55) scale(1 1.04)" class="b" textLength="50.13" lengthAdjust="spacingAndGlyphs">211.7</text>
<text transform="translate(1493.21 1005.55) scale(1 1.04)" class="b" textLength="50.13" lengthAdjust="spacingAndGlyphs">224.8</text>
<text transform="translate(1594.66 1005.55) scale(1 1.04)" class="b" textLength="50.13" lengthAdjust="spacingAndGlyphs">213.7</text>
<text transform="translate(1696.11 1005.55) scale(1 1.04)" class="b" textLength="50.13" lengthAdjust="spacingAndGlyphs">219.7</text>
<text transform="translate(1797.56 1005.55) scale(1 1.04)" class="b" textLength="50.13" lengthAdjust="spacingAndGlyphs">219.1</text>
<text transform="translate(1899.01 1005.55) scale(1 1.04)" class="b" textLength="50.13" lengthAdjust="spacingAndGlyphs">219.6</text>
<text transform="translate(1392.17 1036.4) scale(1 1.04)" class="b" textLength="45.66" lengthAdjust="spacingAndGlyphs">-12.9</text>
<text transform="translate(1493.11 1036.4) scale(1 1.04)" class="b" textLength="27.85" lengthAdjust="spacingAndGlyphs">0.2</text>
<text transform="translate(1595.07 1036.4) scale(1 1.04)" class="b" textLength="45.66" lengthAdjust="spacingAndGlyphs">-10.9</text>
<text transform="translate(1696.52 1036.4) scale(1 1.04)" class="b" textLength="34.52" lengthAdjust="spacingAndGlyphs">-4.9</text>
<text transform="translate(1797.97 1036.4) scale(1 1.04)" class="b" textLength="34.52" lengthAdjust="spacingAndGlyphs">-5.5</text>
<text transform="translate(1899.42 1036.4) scale(1 1.04)" class="b" textLength="34.52" lengthAdjust="spacingAndGlyphs">-5.0</text>
</g>
</g>
<g id="panelC">
<g fill="none" stroke="#000" stroke-width="2.9" stroke-linecap="butt" stroke-linejoin="round">
<path d="M131.44 1136.4 H943.4 V1936.6 H131.44"/>
<path d="M143.14 1136.4 V1292.27"/>
<path d="M143.14 1312.52 V1936.6"/>
<path d="M136.24 1292.27H150.04M136.24 1312.52H150.04M131.44 1253.3H143.14M131.44 1214.34H143.14M131.44 1175.37H143.14M131.44 1832.59H143.14M131.44 1728.57H143.14M131.44 1624.56H143.14M131.44 1520.55H143.14M131.44 1416.53H143.14M136.84 1272.79H143.14M136.84 1233.82H143.14M136.84 1194.85H143.14M136.84 1155.88H143.14M136.84 1884.59H143.14M136.84 1780.58H143.14M136.84 1676.57H143.14M136.84 1572.55H143.14M136.84 1468.54H143.14M136.84 1364.53H143.14M215.7 1936.6V1948.2M324.83 1936.6V1948.2M433.96 1936.6V1948.2M543.09 1936.6V1948.2M652.22 1936.6V1948.2M761.35 1936.6V1948.2M870.48 1936.6V1948.2"/>
</g>
<g font-size="22.4" text-anchor="end" class="c">
<text transform="translate(128.34 1144.15) scale(1 1.03)">1100</text>
<text transform="translate(128.34 1183.12) scale(1 1.03)">1000</text>
<text transform="translate(128.34 1222.09) scale(1 1.03)">900</text>
<text transform="translate(128.34 1261.05) scale(1 1.03)">800</text>
<text transform="translate(128.34 1300.02) scale(1 1.03)">700</text>
<text transform="translate(128.34 1320.27) scale(1 1.03)">600</text>
<text transform="translate(128.34 1424.28) scale(1 1.03)">500</text>
<text transform="translate(128.34 1528.3) scale(1 1.03)">400</text>
<text transform="translate(128.34 1632.31) scale(1 1.03)">300</text>
<text transform="translate(128.34 1736.32) scale(1 1.03)">200</text>
<text transform="translate(128.34 1840.34) scale(1 1.03)">100</text>
<text transform="translate(128.34 1944.35) scale(1 1.03)">0</text>
</g>
<g font-size="22.4" text-anchor="middle" class="c">
<text transform="translate(215.2 1970.7) scale(1 1.03)">Plasma</text>
<text transform="translate(324.33 1970.7) scale(1 1.03)">Day 1</text>
<text transform="translate(433.46 1970.7) scale(1 1.03)">Day 2</text>
<text transform="translate(542.59 1970.7) scale(1 1.03)">Day 3</text>
<text transform="translate(651.72 1970.7) scale(1 1.03)">Day 6</text>
<text transform="translate(760.85 1970.7) scale(1 1.03)">Day 14</text>
<text transform="translate(869.98 1970.7) scale(1 1.03)">Day 31</text>
<text transform="translate(66.14 1535.6) rotate(-90)" font-size="22.75" style="stroke:none">DBS Creatinine (µmol/L)</text>
</g>
<text transform="translate(1.2 1149.4) scale(1 1.03)" font-size="37.5" class="c">C</text>
<g fill="none" stroke="#000" stroke-width="3.9" stroke-linejoin="round" stroke-linecap="round">
<polyline points="215.7,1164.71 324.83,1166 433.96,1156.71 543.09,1163.81 652.22,1162.1 761.35,1164.51 870.48,1169.39"/>
<polyline points="215.7,1222.7 324.83,1226.99 433.96,1217.28 543.09,1199.11 652.22,1218.8 761.35,1207.1 870.48,1221.81"/>
<polyline points="215.7,1410.37 324.83,1437.72 433.96,1399.97 543.09,1387.7 652.22,1393.11 761.35,1385.83 870.48,1409.75"/>
<polyline points="215.7,1557.22 324.83,1561.69 433.96,1539.44 543.09,1541.41 652.22,1547.65 761.35,1531.43 870.48,1549"/>
<polyline points="215.7,1648.53 324.83,1660.91 433.96,1655.92 543.09,1651.76 652.22,1640.73 761.35,1639.38 870.48,1645.72"/>
<polyline points="215.7,1674.53 324.83,1680.77 433.96,1674.53 543.09,1684.72 652.22,1668.4 761.35,1660.91 870.48,1659.35"/>
<polyline points="215.7,1736.2 324.83,1721.54 433.96,1730.8 543.09,1734.85 652.22,1698.35 761.35,1705.73 870.48,1697.72"/>
<polyline points="215.7,1760.12 324.83,1772.08 433.96,1760.12 543.09,1771.77 652.22,1768.13 761.35,1744 870.48,1740.36"/>
<polyline points="215.7,1775.72 324.83,1772.08 433.96,1768.13 543.09,1763.76 652.22,1751.28 761.35,1748.37 870.48,1741.82"/>
<polyline points="215.7,1790.08 324.83,1793.3 433.96,1795.17 543.09,1802.45 652.22,1784.25 761.35,1771.77 870.48,1766.36"/>
<polyline points="215.7,1812.64 324.83,1827.1 433.96,1817.84 543.09,1822.94 652.22,1800.27 761.35,1817.84 870.48,1789.35"/>
<polyline points="215.7,1822.21 324.83,1820.76 433.96,1813.37 543.09,1804.64 652.22,1787.89 761.35,1775.41 870.48,1767.4"/>
<polyline points="215.7,1832.82 324.83,1833.13 433.96,1822.21 543.09,1828.76 652.22,1815.66 761.35,1784.98 870.48,1803.91"/>
<polyline points="215.7,1845.09 324.83,1853.62 433.96,1837.5 543.09,1844.78 652.22,1832.4 761.35,1818.57 870.48,1821.48"/>
<polyline points="215.7,1855.08 324.83,1844.16 433.96,1836.77 543.09,1841.87 652.22,1815.66 761.35,1804.64 870.48,1801"/>
<polyline points="215.7,1860.9 324.83,1877.02 433.96,1866 543.09,1846.34 652.22,1841.87 761.35,1835.42 870.48,1824.4"/>
<polyline points="215.7,1874.32 324.83,1871.09 433.96,1850.29 543.09,1859.13 652.22,1846.34 761.35,1839.68 870.48,1843.32"/>
<polyline points="215.7,1894.8 324.83,1911.34 433.96,1900.32 543.09,1890.85 652.22,1878.48 761.35,1869.74 870.48,1852.89"/>
<polyline points="215.7,1906.97 324.83,1906.24 433.96,1916.44 543.09,1907.7 652.22,1895.22 761.35,1890.12 870.48,1867.45"/>
<polyline points="215.7,1922.68 324.83,1923.4 433.96,1928.81 543.09,1914.25 652.22,1905.52 761.35,1905.93 870.48,1890.12"/>
</g>
<g fill="#000">
<circle cx="215.7" cy="1164.71" r="5.85"/>
<circle cx="324.83" cy="1166" r="5.85"/>
<circle cx="433.96" cy="1156.71" r="5.85"/>
<circle cx="543.09" cy="1163.81" r="5.85"/>
<circle cx="652.22" cy="1162.1" r="5.85"/>
<circle cx="761.35" cy="1164.51" r="5.85"/>
<circle cx="870.48" cy="1169.39" r="5.85"/>
<circle cx="215.7" cy="1222.7" r="5.85"/>
<circle cx="324.83" cy="1226.99" r="5.85"/>
<circle cx="433.96" cy="1217.28" r="5.85"/>
<circle cx="543.09" cy="1199.11" r="5.85"/>
<circle cx="652.22" cy="1218.8" r="5.85"/>
<circle cx="761.35" cy="1207.1" r="5.85"/>
<circle cx="870.48" cy="1221.81" r="5.85"/>
<circle cx="215.7" cy="1410.37" r="5.85"/>
<circle cx="324.83" cy="1437.72" r="5.85"/>
<circle cx="433.96" cy="1399.97" r="5.85"/>
<circle cx="543.09" cy="1387.7" r="5.85"/>
<circle cx="652.22" cy="1393.11" r="5.85"/>
<circle cx="761.35" cy="1385.83" r="5.85"/>
<circle cx="870.48" cy="1409.75" r="5.85"/>
<circle cx="215.7" cy="1557.22" r="5.85"/>
<circle cx="324.83" cy="1561.69" r="5.85"/>
<circle cx="433.96" cy="1539.44" r="5.85"/>
<circle cx="543.09" cy="1541.41" r="5.85"/>
<circle cx="652.22" cy="1547.65" r="5.85"/>
<circle cx="761.35" cy="1531.43" r="5.85"/>
<circle cx="870.48" cy="1549" r="5.85"/>
<circle cx="215.7" cy="1648.53" r="5.85"/>
<circle cx="324.83" cy="1660.91" r="5.85"/>
<circle cx="433.96" cy="1655.92" r="5.85"/>
<circle cx="543.09" cy="1651.76" r="5.85"/>
<circle cx="652.22" cy="1640.73" r="5.85"/>
<circle cx="761.35" cy="1639.38" r="5.85"/>
<circle cx="870.48" cy="1645.72" r="5.85"/>
<circle cx="215.7" cy="1674.53" r="5.85"/>
<circle cx="324.83" cy="1680.77" r="5.85"/>
<circle cx="433.96" cy="1674.53" r="5.85"/>
<circle cx="543.09" cy="1684.72" r="5.85"/>
<circle cx="652.22" cy="1668.4" r="5.85"/>
<circle cx="761.35" cy="1660.91" r="5.85"/>
<circle cx="870.48" cy="1659.35" r="5.85"/>
<circle cx="215.7" cy="1736.2" r="5.85"/>
<circle cx="324.83" cy="1721.54" r="5.85"/>
<circle cx="433.96" cy="1730.8" r="5.85"/>
<circle cx="543.09" cy="1734.85" r="5.85"/>
<circle cx="652.22" cy="1698.35" r="5.85"/>
<circle cx="761.35" cy="1705.73" r="5.85"/>
<circle cx="870.48" cy="1697.72" r="5.85"/>
<circle cx="215.7" cy="1760.12" r="5.85"/>
<circle cx="324.83" cy="1772.08" r="5.85"/>
<circle cx="433.96" cy="1760.12" r="5.85"/>
<circle cx="543.09" cy="1771.77" r="5.85"/>
<circle cx="652.22" cy="1768.13" r="5.85"/>
<circle cx="761.35" cy="1744" r="5.85"/>
<circle cx="870.48" cy="1740.36" r="5.85"/>
<circle cx="215.7" cy="1775.72" r="5.85"/>
<circle cx="433.96" cy="1768.13" r="5.85"/>
<circle cx="543.09" cy="1763.76" r="5.85"/>
<circle cx="652.22" cy="1751.28" r="5.85"/>
<circle cx="761.35" cy="1748.37" r="5.85"/>
<circle cx="870.48" cy="1741.82" r="5.85"/>
<circle cx="215.7" cy="1790.08" r="5.85"/>
<circle cx="324.83" cy="1793.3" r="5.85"/>
<circle cx="433.96" cy="1795.17" r="5.85"/>
<circle cx="543.09" cy="1802.45" r="5.85"/>
<circle cx="652.22" cy="1784.25" r="5.85"/>
<circle cx="761.35" cy="1771.77" r="5.85"/>
<circle cx="870.48" cy="1766.36" r="5.85"/>
<circle cx="215.7" cy="1812.64" r="5.85"/>
<circle cx="324.83" cy="1827.1" r="5.85"/>
<circle cx="433.96" cy="1817.84" r="5.85"/>
<circle cx="543.09" cy="1822.94" r="5.85"/>
<circle cx="652.22" cy="1800.27" r="5.85"/>
<circle cx="761.35" cy="1817.84" r="5.85"/>
<circle cx="870.48" cy="1789.35" r="5.85"/>
<circle cx="215.7" cy="1822.21" r="5.85"/>
<circle cx="324.83" cy="1820.76" r="5.85"/>
<circle cx="433.96" cy="1813.37" r="5.85"/>
<circle cx="543.09" cy="1804.64" r="5.85"/>
<circle cx="652.22" cy="1787.89" r="5.85"/>
<circle cx="761.35" cy="1775.41" r="5.85"/>
<circle cx="870.48" cy="1767.4" r="5.85"/>
<circle cx="215.7" cy="1832.82" r="5.85"/>
<circle cx="324.83" cy="1833.13" r="5.85"/>
<circle cx="433.96" cy="1822.21" r="5.85"/>
<circle cx="543.09" cy="1828.76" r="5.85"/>
<circle cx="652.22" cy="1815.66" r="5.85"/>
<circle cx="761.35" cy="1784.98" r="5.85"/>
<circle cx="870.48" cy="1803.91" r="5.85"/>
<circle cx="215.7" cy="1845.09" r="5.85"/>
<circle cx="324.83" cy="1853.62" r="5.85"/>
<circle cx="433.96" cy="1837.5" r="5.85"/>
<circle cx="543.09" cy="1844.78" r="5.85"/>
<circle cx="652.22" cy="1832.4" r="5.85"/>
<circle cx="761.35" cy="1818.57" r="5.85"/>
<circle cx="870.48" cy="1821.48" r="5.85"/>
<circle cx="215.7" cy="1855.08" r="5.85"/>
<circle cx="324.83" cy="1844.16" r="5.85"/>
<circle cx="433.96" cy="1836.77" r="5.85"/>
<circle cx="543.09" cy="1841.87" r="5.85"/>
<circle cx="761.35" cy="1804.64" r="5.85"/>
<circle cx="870.48" cy="1801" r="5.85"/>
<circle cx="215.7" cy="1860.9" r="5.85"/>
<circle cx="324.83" cy="1877.02" r="5.85"/>
<circle cx="433.96" cy="1866" r="5.85"/>
<circle cx="543.09" cy="1846.34" r="5.85"/>
<circle cx="652.22" cy="1841.87" r="5.85"/>
<circle cx="761.35" cy="1835.42" r="5.85"/>
<circle cx="870.48" cy="1824.4" r="5.85"/>
<circle cx="215.7" cy="1874.32" r="5.85"/>
<circle cx="324.83" cy="1871.09" r="5.85"/>
<circle cx="433.96" cy="1850.29" r="5.85"/>
<circle cx="543.09" cy="1859.13" r="5.85"/>
<circle cx="652.22" cy="1846.34" r="5.85"/>
<circle cx="761.35" cy="1839.68" r="5.85"/>
<circle cx="870.48" cy="1843.32" r="5.85"/>
<circle cx="215.7" cy="1894.8" r="5.85"/>
<circle cx="324.83" cy="1911.34" r="5.85"/>
<circle cx="433.96" cy="1900.32" r="5.85"/>
<circle cx="543.09" cy="1890.85" r="5.85"/>
<circle cx="652.22" cy="1878.48" r="5.85"/>
<circle cx="761.35" cy="1869.74" r="5.85"/>
<circle cx="870.48" cy="1852.89" r="5.85"/>
<circle cx="215.7" cy="1906.97" r="5.85"/>
<circle cx="324.83" cy="1906.24" r="5.85"/>
<circle cx="433.96" cy="1916.44" r="5.85"/>
<circle cx="543.09" cy="1907.7" r="5.85"/>
<circle cx="652.22" cy="1895.22" r="5.85"/>
<circle cx="761.35" cy="1890.12" r="5.85"/>
<circle cx="870.48" cy="1867.45" r="5.85"/>
<circle cx="215.7" cy="1922.68" r="5.85"/>
<circle cx="324.83" cy="1923.4" r="5.85"/>
<circle cx="433.96" cy="1928.81" r="5.85"/>
<circle cx="543.09" cy="1914.25" r="5.85"/>
<circle cx="652.22" cy="1905.52" r="5.85"/>
<circle cx="761.35" cy="1905.93" r="5.85"/>
<circle cx="870.48" cy="1890.12" r="5.85"/>
</g>
<path d="M122.3 2006.7H962.35V2035.55H122.3ZM122.3 2037.45H252.2V2097.05H122.3ZM254.6 2037.45H353.65V2097.05H254.6ZM356.05 2037.45H962.35V2066.3H356.05ZM122.3 2098.95H252.2V2127.8H122.3ZM122.3 2129.7H252.2V2158.55H122.3ZM356.05 2068.2H455.1V2097.05H356.05ZM457.5 2068.2H556.55V2097.05H457.5ZM558.95 2068.2H658V2097.05H558.95ZM660.4 2068.2H759.45V2097.05H660.4ZM761.85 2068.2H860.9V2097.05H761.85ZM863.3 2068.2H962.35V2097.05H863.3Z" fill="#fce4d8"/>
<path d="M121.1 2005.5H963.55V2159.25H121.1ZM121.1 2036.25H963.55M354.85 2067H963.55M121.1 2097.75H963.55M121.1 2128.5H963.55M253.4 2036.25V2159.25M354.85 2036.25V2159.25M456.3 2067V2159.25M557.75 2067V2159.25M659.2 2067V2159.25M760.65 2067V2159.25M862.1 2067V2159.25" fill="none" stroke="#000" stroke-width="1.55" stroke-linejoin="miter"/>
<g font-size="20.4">
<text transform="translate(121.1 2028.7) scale(1 1.04)" class="b" xml:space="preserve"><tspan x="4.68" textLength="46.44" lengthAdjust="spacingAndGlyphs">CLIA</tspan> <tspan x="56.9" textLength="113.7" lengthAdjust="spacingAndGlyphs">Acceptance</tspan> <tspan x="175.9" textLength="50.06" lengthAdjust="spacingAndGlyphs">Limit</tspan> <tspan x="233.63" textLength="12.23" lengthAdjust="spacingAndGlyphs">=</tspan> <tspan x="253.59" textLength="24.24" lengthAdjust="spacingAndGlyphs">TV</tspan> <tspan x="287.41" textLength="11.16" lengthAdjust="spacingAndGlyphs">±</tspan> <tspan x="307.53" textLength="24.24" lengthAdjust="spacingAndGlyphs">18</tspan> <tspan x="336.93" textLength="72.66" lengthAdjust="spacingAndGlyphs">µmol/L</tspan></text>
<text transform="translate(124.34 2059.65) scale(1 1.04)" textLength="94.98" lengthAdjust="spacingAndGlyphs">Creatinine</text>
<text transform="translate(124.01 2090.1) scale(1 1.04)" textLength="82.37" lengthAdjust="spacingAndGlyphs">(µmol/L)</text>
<text transform="translate(256.99 2059.65) scale(1 1.04)" textLength="23.19" lengthAdjust="spacingAndGlyphs">TV</text>
<text transform="translate(256.44 2090.1) scale(1 1.04)" textLength="81.01" lengthAdjust="spacingAndGlyphs">(Plasma)</text>
<text transform="translate(357.47 2059.65) scale(1 1.04)" textLength="37.57" lengthAdjust="spacingAndGlyphs">Day</text>
<text transform="translate(124.44 2121.05) scale(1 1.04)" textLength="53.55" lengthAdjust="spacingAndGlyphs">Mean</text>
<text transform="translate(124.44 2151.8) scale(1 1.04)" textLength="97.71" lengthAdjust="spacingAndGlyphs">Difference</text>
</g>
<g font-size="18.6">
<text transform="translate(358.33 2088.5) scale(1 1.04)">1</text>
<text transform="translate(460.26 2088.5) scale(1 1.04)">2</text>
<text transform="translate(561.94 2088.5) scale(1 1.04)">3</text>
<text transform="translate(663.16 2088.5) scale(1 1.04)">6</text>
<text transform="translate(765.07 2088.5) scale(1 1.04)" class="i">14</text>
<text transform="translate(866.56 2088.5) scale(1 1.04)" class="i">31</text>
</g>
<g font-size="20.4">
<text transform="translate(256.31 2121.15) scale(1 1.04)" class="b" textLength="50.13" lengthAdjust="spacingAndGlyphs">233.9</text>
<text transform="translate(358.16 2121.15) scale(1 1.04)" class="b" textLength="50.13" lengthAdjust="spacingAndGlyphs">228.7</text>
<text transform="translate(459.61 2121.15) scale(1 1.04)" class="b" textLength="50.13" lengthAdjust="spacingAndGlyphs">238.8</text>
<text transform="translate(561.06 2121.15) scale(1 1.04)" class="b" textLength="50.13" lengthAdjust="spacingAndGlyphs">240.5</text>
<text transform="translate(662.51 2121.15) scale(1 1.04)" class="b" textLength="50.13" lengthAdjust="spacingAndGlyphs">249.2</text>
<text transform="translate(764.96 2121.15) scale(1 1.04)" class="bi" textLength="50.13" lengthAdjust="spacingAndGlyphs">257.4</text>
<text transform="translate(866.41 2121.15) scale(1 1.04)" class="bi" textLength="50.13" lengthAdjust="spacingAndGlyphs">257.9</text>
<text transform="translate(358.57 2152) scale(1 1.04)" class="b" textLength="34.52" lengthAdjust="spacingAndGlyphs">-5.1</text>
<text transform="translate(459.68 2152) scale(1 1.04)" class="b" textLength="27.85" lengthAdjust="spacingAndGlyphs">5.0</text>
<text transform="translate(561.02 2152) scale(1 1.04)" class="b" textLength="27.85" lengthAdjust="spacingAndGlyphs">6.6</text>
<text transform="translate(661.94 2152) scale(1 1.04)" class="b" textLength="38.99" lengthAdjust="spacingAndGlyphs">15.4</text>
<text transform="translate(764.96 2152) scale(1 1.04)" class="bi" textLength="38.99" lengthAdjust="spacingAndGlyphs">23.6</text>
<text transform="translate(866.41 2152) scale(1 1.04)" class="bi" textLength="38.99" lengthAdjust="spacingAndGlyphs">24.0</text>
</g>
</g>
<g id="panelD">
<g fill="none" stroke="#000" stroke-width="2.9" stroke-linecap="butt" stroke-linejoin="round">
<path d="M1164.44 1136.4 H1976.4 V1936.45 H1164.44"/>
<path d="M1176.14 1136.4 V1292.27"/>
<path d="M1176.14 1312.5 V1936.45"/>
<path d="M1169.24 1292.27H1183.04M1169.24 1312.5H1183.04M1164.44 1253.3H1176.14M1164.44 1214.34H1176.14M1164.44 1175.37H1176.14M1164.44 1832.46H1176.14M1164.44 1728.47H1176.14M1164.44 1624.47H1176.14M1164.44 1520.48H1176.14M1164.44 1416.49H1176.14M1169.84 1272.79H1176.14M1169.84 1233.82H1176.14M1169.84 1194.85H1176.14M1169.84 1155.88H1176.14M1169.84 1884.45H1176.14M1169.84 1780.46H1176.14M1169.84 1676.47H1176.14M1169.84 1572.48H1176.14M1169.84 1468.49H1176.14M1169.84 1364.5H1176.14M1248.55 1936.45V1948.05M1357.64 1936.45V1948.05M1466.73 1936.45V1948.05M1575.82 1936.45V1948.05M1684.91 1936.45V1948.05M1794 1936.45V1948.05M1903.09 1936.45V1948.05"/>
</g>
<g font-size="22.4" text-anchor="end" class="c">
<text transform="translate(1161.34 1144.15) scale(1 1.03)">1100</text>
<text transform="translate(1161.34 1183.12) scale(1 1.03)">1000</text>
<text transform="translate(1161.34 1222.09) scale(1 1.03)">900</text>
<text transform="translate(1161.34 1261.05) scale(1 1.03)">800</text>
<text transform="translate(1161.34 1300.02) scale(1 1.03)">700</text>
<text transform="translate(1161.34 1320.25) scale(1 1.03)">600</text>
<text transform="translate(1161.34 1424.24) scale(1 1.03)">500</text>
<text transform="translate(1161.34 1528.23) scale(1 1.03)">400</text>
<text transform="translate(1161.34 1632.22) scale(1 1.03)">300</text>
<text transform="translate(1161.34 1736.22) scale(1 1.03)">200</text>
<text transform="translate(1161.34 1840.21) scale(1 1.03)">100</text>
<text transform="translate(1161.34 1944.2) scale(1 1.03)">0</text>
</g>
<g font-size="22.4" text-anchor="middle" class="c">
<text transform="translate(1248.05 1970.55) scale(1 1.03)">Plasma</text>
<text transform="translate(1357.14 1970.55) scale(1 1.03)">Day 1</text>
<text transform="translate(1466.23 1970.55) scale(1 1.03)">Day 2</text>
<text transform="translate(1575.32 1970.55) scale(1 1.03)">Day 3</text>
<text transform="translate(1684.41 1970.55) scale(1 1.03)">Day 6</text>
<text transform="translate(1793.5 1970.55) scale(1 1.03)">Day 14</text>
<text transform="translate(1902.59 1970.55) scale(1 1.03)">Day 31</text>
<text transform="translate(1099.14 1535.53) rotate(-90)" font-size="22.75" style="stroke:none">DBS Creatinine (µmol/L)</text>
</g>
<text transform="translate(1063 1149.4) scale(1 1.03)" font-size="37.5" class="c">D</text>
<g fill="none" stroke="#000" stroke-width="3.9" stroke-linejoin="round" stroke-linecap="round">
<polyline points="1248.55,1164.51 1357.64,1163.19 1466.73,1161.59 1575.82,1157.69 1684.91,1146.5 1794,1153.4 1903.09,1165.29"/>
<polyline points="1248.55,1222.7 1357.64,1216.19 1466.73,1217.09 1575.82,1209.72 1684.91,1195.21 1794,1209.72 1903.09,1208.39"/>
<polyline points="1248.55,1410.27 1357.64,1401.22 1466.73,1382.29 1575.82,1362.22 1684.91,1355.15 1794,1347.14 1903.09,1351.4"/>
<polyline points="1248.55,1566.27 1357.64,1562 1466.73,1548.38 1575.82,1534.34 1684.91,1529.97 1794,1537.15 1903.09,1546.61"/>
<polyline points="1248.55,1648.64 1357.64,1644.16 1466.73,1609.64 1575.82,1616.08 1684.91,1592.27 1794,1595.28 1903.09,1573.65"/>
<polyline points="1248.55,1674.53 1357.64,1659.76 1466.73,1640.32 1575.82,1638.24 1684.91,1617.02 1794,1612.24 1903.09,1592.27"/>
<polyline points="1248.55,1709.58 1357.64,1692.94 1466.73,1677.65 1575.82,1670.27 1684.91,1659.76 1794,1650.51 1903.09,1645.2"/>
<polyline points="1248.55,1759.5 1357.64,1758.46 1466.73,1736.52 1575.82,1736.52 1684.91,1711.35 1794,1698.24 1903.09,1694.29"/>
<polyline points="1248.55,1775.2 1357.64,1763.56 1466.73,1747.23 1575.82,1724.76 1684.91,1718 1794,1701.16 1903.09,1674.12"/>
<polyline points="1248.55,1790.08 1357.64,1775.2 1466.73,1772.29 1575.82,1757 1684.91,1731.11 1794,1706.25 1903.09,1682.12"/>
<polyline points="1248.55,1812.02 1357.64,1804.43 1466.73,1802.97 1575.82,1810.98 1684.91,1785.19 1794,1754.3 1903.09,1719.46"/>
<polyline points="1248.55,1822 1357.64,1790.6 1466.73,1778.84 1575.82,1757.73 1684.91,1744.21 1794,1758.15 1903.09,1734.75"/>
<polyline points="1248.55,1832.2 1357.64,1814.62 1466.73,1798.6 1575.82,1791.32 1684.91,1766.88 1794,1769.07 1903.09,1743.07"/>
<polyline points="1248.55,1844.57 1357.64,1826.37 1466.73,1790.6 1575.82,1786.85 1684.91,1759.6 1794,1753.05 1903.09,1722.37"/>
<polyline points="1248.55,1854.87 1357.64,1820.55 1466.73,1794.96 1575.82,1789.14 1684.91,1763.97 1794,1762.52 1903.09,1757.84"/>
<polyline points="1248.55,1860.69 1357.64,1851.23 1466.73,1842.39 1575.82,1829.28 1684.91,1816.6 1794,1796.11 1903.09,1791.74"/>
<polyline points="1248.55,1873.8 1357.64,1838.75 1466.73,1821.28 1575.82,1828.56 1684.91,1802.66 1794,1792.47 1903.09,1789.56"/>
<polyline points="1248.55,1894.6 1357.64,1879 1466.73,1868.7 1575.82,1852.68 1684.91,1834.07 1794,1801.2 1903.09,1768.34"/>
<polyline points="1248.55,1914.36 1357.64,1895.74 1466.73,1887.73 1575.82,1891.37 1684.91,1852.37 1794,1835.32 1903.09,1793.2"/>
<polyline points="1248.55,1936.3 1357.64,1905.2 1466.73,1905.93 1575.82,1892.1 1684.91,1853.83 1794,1849.04 1903.09,1824.92"/>
</g>
<g fill="#000">
<circle cx="1248.55" cy="1164.51" r="5.85"/>
<circle cx="1357.64" cy="1163.19" r="5.85"/>
<circle cx="1466.73" cy="1161.59" r="5.85"/>
<circle cx="1575.82" cy="1157.69" r="5.85"/>
<circle cx="1684.91" cy="1146.5" r="5.85"/>
<circle cx="1794" cy="1153.4" r="5.85"/>
<circle cx="1903.09" cy="1165.29" r="5.85"/>
<circle cx="1248.55" cy="1222.7" r="5.85"/>
<circle cx="1357.64" cy="1216.19" r="5.85"/>
<circle cx="1466.73" cy="1217.09" r="5.85"/>
<circle cx="1575.82" cy="1209.72" r="5.85"/>
<circle cx="1684.91" cy="1195.21" r="5.85"/>
<circle cx="1794" cy="1209.72" r="5.85"/>
<circle cx="1903.09" cy="1208.39" r="5.85"/>
<circle cx="1248.55" cy="1410.27" r="5.85"/>
<circle cx="1357.64" cy="1401.22" r="5.85"/>
<circle cx="1466.73" cy="1382.29" r="5.85"/>
<circle cx="1575.82" cy="1362.22" r="5.85"/>
<circle cx="1684.91" cy="1355.15" r="5.85"/>
<circle cx="1794" cy="1347.14" r="5.85"/>
<circle cx="1903.09" cy="1351.4" r="5.85"/>
<circle cx="1248.55" cy="1566.27" r="5.85"/>
<circle cx="1357.64" cy="1562" r="5.85"/>
<circle cx="1466.73" cy="1548.38" r="5.85"/>
<circle cx="1575.82" cy="1534.34" r="5.85"/>
<circle cx="1684.91" cy="1529.97" r="5.85"/>
<circle cx="1794" cy="1537.15" r="5.85"/>
<circle cx="1903.09" cy="1546.61" r="5.85"/>
<circle cx="1248.55" cy="1648.64" r="5.85"/>
<circle cx="1357.64" cy="1644.16" r="5.85"/>
<circle cx="1466.73" cy="1609.64" r="5.85"/>
<circle cx="1575.82" cy="1616.08" r="5.85"/>
<circle cx="1684.91" cy="1592.27" r="5.85"/>
<circle cx="1794" cy="1595.28" r="5.85"/>
<circle cx="1903.09" cy="1573.65" r="5.85"/>
<circle cx="1248.55" cy="1674.53" r="5.85"/>
<circle cx="1357.64" cy="1659.76" r="5.85"/>
<circle cx="1466.73" cy="1640.32" r="5.85"/>
<circle cx="1575.82" cy="1638.24" r="5.85"/>
<circle cx="1684.91" cy="1617.02" r="5.85"/>
<circle cx="1794" cy="1612.24" r="5.85"/>
<circle cx="1903.09" cy="1592.27" r="5.85"/>
<circle cx="1248.55" cy="1709.58" r="5.85"/>
<circle cx="1357.64" cy="1692.94" r="5.85"/>
<circle cx="1466.73" cy="1677.65" r="5.85"/>
<circle cx="1575.82" cy="1670.27" r="5.85"/>
<circle cx="1684.91" cy="1659.76" r="5.85"/>
<circle cx="1794" cy="1650.51" r="5.85"/>
<circle cx="1903.09" cy="1645.2" r="5.85"/>
<circle cx="1248.55" cy="1759.5" r="5.85"/>
<circle cx="1357.64" cy="1758.46" r="5.85"/>
<circle cx="1466.73" cy="1736.52" r="5.85"/>
<circle cx="1575.82" cy="1736.52" r="5.85"/>
<circle cx="1684.91" cy="1711.35" r="5.85"/>
<circle cx="1794" cy="1698.24" r="5.85"/>
<circle cx="1903.09" cy="1694.29" r="5.85"/>
<circle cx="1248.55" cy="1775.2" r="5.85"/>
<circle cx="1357.64" cy="1763.56" r="5.85"/>
<circle cx="1466.73" cy="1747.23" r="5.85"/>
<circle cx="1575.82" cy="1724.76" r="5.85"/>
<circle cx="1684.91" cy="1718" r="5.85"/>
<circle cx="1794" cy="1701.16" r="5.85"/>
<circle cx="1903.09" cy="1674.12" r="5.85"/>
<circle cx="1248.55" cy="1790.08" r="5.85"/>
<circle cx="1357.64" cy="1775.2" r="5.85"/>
<circle cx="1466.73" cy="1772.29" r="5.85"/>
<circle cx="1575.82" cy="1757" r="5.85"/>
<circle cx="1684.91" cy="1731.11" r="5.85"/>
<circle cx="1794" cy="1706.25" r="5.85"/>
<circle cx="1903.09" cy="1682.12" r="5.85"/>
<circle cx="1248.55" cy="1812.02" r="5.85"/>
<circle cx="1357.64" cy="1804.43" r="5.85"/>
<circle cx="1466.73" cy="1802.97" r="5.85"/>
<circle cx="1575.82" cy="1810.98" r="5.85"/>
<circle cx="1684.91" cy="1785.19" r="5.85"/>
<circle cx="1794" cy="1754.3" r="5.85"/>
<circle cx="1903.09" cy="1719.46" r="5.85"/>
<circle cx="1248.55" cy="1822" r="5.85"/>
<circle cx="1357.64" cy="1790.6" r="5.85"/>
<circle cx="1466.73" cy="1778.84" r="5.85"/>
<circle cx="1575.82" cy="1757.73" r="5.85"/>
<circle cx="1684.91" cy="1744.21" r="5.85"/>
<circle cx="1794" cy="1758.15" r="5.85"/>
<circle cx="1903.09" cy="1734.75" r="5.85"/>
<circle cx="1248.55" cy="1832.2" r="5.85"/>
<circle cx="1357.64" cy="1814.62" r="5.85"/>
<circle cx="1466.73" cy="1798.6" r="5.85"/>
<circle cx="1575.82" cy="1791.32" r="5.85"/>
<circle cx="1684.91" cy="1766.88" r="5.85"/>
<circle cx="1794" cy="1769.07" r="5.85"/>
<circle cx="1903.09" cy="1743.07" r="5.85"/>
<circle cx="1248.55" cy="1844.57" r="5.85"/>
<circle cx="1357.64" cy="1826.37" r="5.85"/>
<circle cx="1466.73" cy="1790.6" r="5.85"/>
<circle cx="1575.82" cy="1786.85" r="5.85"/>
<circle cx="1684.91" cy="1759.6" r="5.85"/>
<circle cx="1794" cy="1753.05" r="5.85"/>
<circle cx="1903.09" cy="1722.37" r="5.85"/>
<circle cx="1248.55" cy="1854.87" r="5.85"/>
<circle cx="1357.64" cy="1820.55" r="5.85"/>
<circle cx="1466.73" cy="1794.96" r="5.85"/>
<circle cx="1575.82" cy="1789.14" r="5.85"/>
<circle cx="1684.91" cy="1763.97" r="5.85"/>
<circle cx="1794" cy="1762.52" r="5.85"/>
<circle cx="1903.09" cy="1757.84" r="5.85"/>
<circle cx="1248.55" cy="1860.69" r="5.85"/>
<circle cx="1357.64" cy="1851.23" r="5.85"/>
<circle cx="1466.73" cy="1842.39" r="5.85"/>
<circle cx="1575.82" cy="1829.28" r="5.85"/>
<circle cx="1684.91" cy="1816.6" r="5.85"/>
<circle cx="1794" cy="1796.11" r="5.85"/>
<circle cx="1903.09" cy="1791.74" r="5.85"/>
<circle cx="1248.55" cy="1873.8" r="5.85"/>
<circle cx="1357.64" cy="1838.75" r="5.85"/>
<circle cx="1466.73" cy="1821.28" r="5.85"/>
<circle cx="1575.82" cy="1828.56" r="5.85"/>
<circle cx="1684.91" cy="1802.66" r="5.85"/>
<circle cx="1794" cy="1792.47" r="5.85"/>
<circle cx="1903.09" cy="1789.56" r="5.85"/>
<circle cx="1248.55" cy="1894.6" r="5.85"/>
<circle cx="1357.64" cy="1879" r="5.85"/>
<circle cx="1466.73" cy="1868.7" r="5.85"/>
<circle cx="1575.82" cy="1852.68" r="5.85"/>
<circle cx="1684.91" cy="1834.07" r="5.85"/>
<circle cx="1794" cy="1801.2" r="5.85"/>
<circle cx="1903.09" cy="1768.34" r="5.85"/>
<circle cx="1248.55" cy="1914.36" r="5.85"/>
<circle cx="1357.64" cy="1895.74" r="5.85"/>
<circle cx="1466.73" cy="1887.73" r="5.85"/>
<circle cx="1575.82" cy="1891.37" r="5.85"/>
<circle cx="1684.91" cy="1852.37" r="5.85"/>
<circle cx="1794" cy="1835.32" r="5.85"/>
<circle cx="1903.09" cy="1793.2" r="5.85"/>
<circle cx="1248.55" cy="1936.3" r="5.85"/>
<circle cx="1357.64" cy="1905.2" r="5.85"/>
<circle cx="1466.73" cy="1905.93" r="5.85"/>
<circle cx="1575.82" cy="1892.1" r="5.85"/>
<circle cx="1684.91" cy="1853.83" r="5.85"/>
<circle cx="1794" cy="1849.04" r="5.85"/>
<circle cx="1903.09" cy="1824.92" r="5.85"/>
</g>
<path d="M1155.9 1996.5H1995.95V2025.35H1155.9ZM1155.9 2027.25H1285.8V2086.85H1155.9ZM1288.2 2027.25H1387.25V2086.85H1288.2ZM1389.65 2027.25H1995.95V2056.1H1389.65ZM1155.9 2088.75H1285.8V2117.6H1155.9ZM1155.9 2119.5H1285.8V2148.35H1155.9ZM1389.65 2058H1488.7V2086.85H1389.65ZM1491.1 2058H1590.15V2086.85H1491.1ZM1592.55 2058H1691.6V2086.85H1592.55ZM1694 2058H1793.05V2086.85H1694ZM1795.45 2058H1894.5V2086.85H1795.45ZM1896.9 2058H1995.95V2086.85H1896.9Z" fill="#fce4d8"/>
<path d="M1154.7 1995.3H1997.15V2149.05H1154.7ZM1154.7 2026.05H1997.15M1388.45 2056.8H1997.15M1154.7 2087.55H1997.15M1154.7 2118.3H1997.15M1287 2026.05V2149.05M1388.45 2026.05V2149.05M1489.9 2056.8V2149.05M1591.35 2056.8V2149.05M1692.8 2056.8V2149.05M1794.25 2056.8V2149.05M1895.7 2056.8V2149.05" fill="none" stroke="#000" stroke-width="1.55" stroke-linejoin="miter"/>
<g font-size="20.4">
<text transform="translate(1154.7 2018.5) scale(1 1.04)" class="b" xml:space="preserve"><tspan x="4.68" textLength="46.44" lengthAdjust="spacingAndGlyphs">CLIA</tspan> <tspan x="56.9" textLength="113.7" lengthAdjust="spacingAndGlyphs">Acceptance</tspan> <tspan x="175.9" textLength="50.06" lengthAdjust="spacingAndGlyphs">Limit</tspan> <tspan x="233.63" textLength="12.23" lengthAdjust="spacingAndGlyphs">=</tspan> <tspan x="253.59" textLength="24.24" lengthAdjust="spacingAndGlyphs">TV</tspan> <tspan x="287.41" textLength="11.16" lengthAdjust="spacingAndGlyphs">±</tspan> <tspan x="307.53" textLength="24.24" lengthAdjust="spacingAndGlyphs">18</tspan> <tspan x="336.93" textLength="72.66" lengthAdjust="spacingAndGlyphs">µmol/L</tspan></text>
<text transform="translate(1157.94 2049.45) scale(1 1.04)" textLength="94.98" lengthAdjust="spacingAndGlyphs">Creatinine</text>
<text transform="translate(1157.61 2079.9) scale(1 1.04)" textLength="82.37" lengthAdjust="spacingAndGlyphs">(µmol/L)</text>
<text transform="translate(1290.59 2049.45) scale(1 1.04)" textLength="23.19" lengthAdjust="spacingAndGlyphs">TV</text>
<text transform="translate(1290.04 2079.9) scale(1 1.04)" textLength="81.01" lengthAdjust="spacingAndGlyphs">(Plasma)</text>
<text transform="translate(1391.07 2049.45) scale(1 1.04)" textLength="37.57" lengthAdjust="spacingAndGlyphs">Day</text>
<text transform="translate(1158.04 2110.85) scale(1 1.04)" textLength="53.55" lengthAdjust="spacingAndGlyphs">Mean</text>
<text transform="translate(1158.04 2141.6) scale(1 1.04)" textLength="97.71" lengthAdjust="spacingAndGlyphs">Difference</text>
</g>
<g font-size="18.6">
<text transform="translate(1391.93 2078.3) scale(1 1.04)">1</text>
<text transform="translate(1494.91 2078.3) scale(1 1.04)" class="i">2</text>
<text transform="translate(1595.81 2078.3) scale(1 1.04)" class="i">3</text>
<text transform="translate(1696.66 2078.3) scale(1 1.04)" class="i">6</text>
<text transform="translate(1798.67 2078.3) scale(1 1.04)" class="i">14</text>
<text transform="translate(1900.16 2078.3) scale(1 1.04)" class="i">31</text>
</g>
<g font-size="20.4">
<text transform="translate(1289.91 2110.95) scale(1 1.04)" class="b" textLength="50.13" lengthAdjust="spacingAndGlyphs">233.6</text>
<text transform="translate(1392.76 2110.95) scale(1 1.04)" class="bi" textLength="50.13" lengthAdjust="spacingAndGlyphs">248.7</text>
<text transform="translate(1494.21 2110.95) scale(1 1.04)" class="bi" textLength="50.13" lengthAdjust="spacingAndGlyphs">262.0</text>
<text transform="translate(1595.66 2110.95) scale(1 1.04)" class="bi" textLength="50.13" lengthAdjust="spacingAndGlyphs">270.1</text>
<text transform="translate(1697.11 2110.95) scale(1 1.04)" class="bi" textLength="50.13" lengthAdjust="spacingAndGlyphs">291.1</text>
<text transform="translate(1798.56 2110.95) scale(1 1.04)" class="bi" textLength="50.13" lengthAdjust="spacingAndGlyphs">297.2</text>
<text transform="translate(1899.54 2110.95) scale(1 1.04)" class="bi" textLength="50.13" lengthAdjust="spacingAndGlyphs">311.1</text>
<text transform="translate(1391.19 2141.8) scale(1 1.04)" class="b" textLength="38.99" lengthAdjust="spacingAndGlyphs">15.2</text>
<text transform="translate(1494.21 2141.8) scale(1 1.04)" class="bi" textLength="38.99" lengthAdjust="spacingAndGlyphs">28.4</text>
<text transform="translate(1595.19 2141.8) scale(1 1.04)" class="bi" textLength="38.99" lengthAdjust="spacingAndGlyphs">36.6</text>
<text transform="translate(1696.6 2141.8) scale(1 1.04)" class="bi" textLength="38.99" lengthAdjust="spacingAndGlyphs">57.6</text>
<text transform="translate(1797.32 2141.8) scale(1 1.04)" class="bi" textLength="38.99" lengthAdjust="spacingAndGlyphs">63.7</text>
<text transform="translate(1898.3 2141.8) scale(1 1.04)" class="bi" textLength="38.99" lengthAdjust="spacingAndGlyphs">77.5</text>
</g>
</g>
</svg></body></html>
